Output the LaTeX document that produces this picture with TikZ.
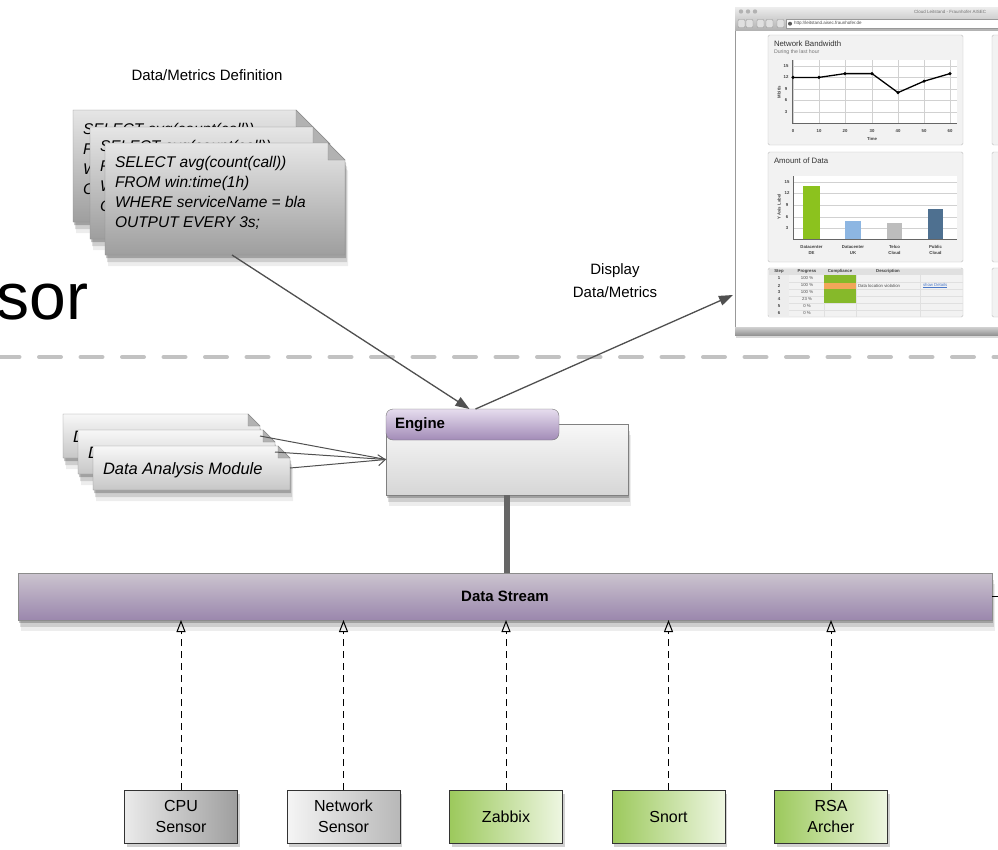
\documentclass[tikz,border=0pt]{standalone}
\usepackage{fontspec}
\setmainfont{Liberation Sans}
\usetikzlibrary{arrows.meta,shadows,calc}

\definecolor{arrowgray}{HTML}{505050}
\definecolor{streamtop}{HTML}{CBC4CF}
\definecolor{streambot}{HTML}{9B87AD}
\definecolor{headtop}{HTML}{E6DDEE}
\definecolor{headbot}{HTML}{A28BB7}
\definecolor{srcgreen}{HTML}{9CC95C}
\definecolor{srcpale}{HTML}{EEF6E2}
\definecolor{barDE}{HTML}{8CC21E}
\definecolor{barUK}{HTML}{8DB6E2}
\definecolor{barTel}{HTML}{BDBDBD}
\definecolor{barPub}{HTML}{4E7090}
\definecolor{okgreen}{HTML}{86B92A}
\definecolor{warnorange}{HTML}{F2A65A}
\definecolor{linkblue}{HTML}{4A78C8}

% folded sheet behind node #1, fold size #2, look #3
\newcommand{\dogear}[3]{%
  \path[#3] (#1.north west) -- ([xshift=-#2]#1.north east)
    -- ([yshift=-#2]#1.north east) -- (#1.south east) -- (#1.south west) -- cycle;
  \filldraw[paper fold] ([xshift=-#2]#1.north east) -- ([xshift=-#2,yshift=-#2]#1.north east)
    -- ([yshift=-#2]#1.north east) -- cycle;
}

\begin{document}
\begin{tikzpicture}[x=1pt, y=-1pt, inner sep=0pt, outer sep=0pt,
    soft shadow/.style={drop shadow={fill=black, shadow xshift=1pt, shadow yshift=-3pt, opacity=.22},
      drop shadow={fill=black, shadow xshift=2pt, shadow yshift=-7pt, opacity=.13},
      drop shadow={fill=black, shadow xshift=3pt, shadow yshift=-11pt, opacity=.07}},
    paper/.style={draw=black!45, top color=black!10, bottom color=black!38, soft shadow},
    slip/.style={paper, top color=black!3, bottom color=black!22},
    paper fold/.style={draw=black!45, fill=black!30},
    caption/.style={font=\fontsize{15}{23}\selectfont},
    query/.style={anchor=north west, align=left, font=\fontsize{15.5}{20}\selectfont\itshape},
    module/.style={anchor=west, font=\fontsize{16.5}{20}\selectfont\itshape},
    heading/.style={font=\fontsize{15}{18}\selectfont\bfseries},
    engine_box/.style={draw=black!50, top color=black!3, bottom color=black!16, soft shadow},
    engine_tab/.style={draw=black!55, top color=headtop, bottom color=headbot, rounded corners=7pt},
    stream_bar/.style={heading, draw=black!45, top color=streamtop, bottom color=streambot, soft shadow},
    source/.style={draw=black!80, line width=1pt, minimum width=113, minimum height=53,
      align=center, font=\fontsize{16}{21}\selectfont,
      drop shadow={fill=black, shadow xshift=2pt, shadow yshift=-4pt, opacity=.18}},
    feed/.style={line width=1pt, dash pattern=on 7pt off 5pt, -{Triangle[open, length=12pt, width=9pt]}},
    link/.style={draw=arrowgray, line width=1pt},
    pointer/.style={draw=arrowgray, fill=arrowgray, line width=1.3pt, -{Triangle[length=14pt, width=10pt]}},
    separator/.style={draw=black!24, line width=4pt, line cap=round, dash pattern=on 22pt off 19.5pt},
    window/.style={draw=black!40, fill=white, drop shadow={fill=black, shadow xshift=1pt, shadow yshift=-3pt, opacity=.15}},
    panel/.style={draw=black!25, fill=black!5, rounded corners=1.5pt},
    plotgrid/.style={draw=black!18, line width=.5pt},
    tick/.style={font=\fontsize{4.3}{6}\selectfont\bfseries, text=black!75, align=center},
    cell/.style={font=\fontsize{4.3}{6}\selectfont, text=black!70},
    shot title/.style={anchor=west, font=\fontsize{7.8}{9}\selectfont, text=black!80},
    shot note/.style={anchor=west, font=\fontsize{5.2}{6}\selectfont, text=black!55}]
    \useasboundingbox (0,0) rectangle (998,849);

    % separator
    \draw[separator] (-2.5,357) -- (1000,357);

    % cut-off word
    \node[anchor=base west, font=\fontsize{66}{70}\selectfont] (cut_word) at (-3,319) {sor};

    % data/metrics definition
    \node[caption] (def_cap) at (207,75) {Data/Metrics Definition};
    \foreach \name/\x/\y in {query_back/73/110, query_mid/90/127, query_front/105/143}{
      \node[anchor=north west, minimum width=240, minimum height=112] (\name) at (\x,\y) {};
      \dogear{\name}{17pt}{paper}
      \node[query] at ([xshift=10pt, yshift=-13pt]\name.north west)
        {SELECT avg(count(call))\\FROM win:time(1h)\\WHERE serviceName = bla\\OUTPUT EVERY 3s;};
    }

    % analysis modules
    \foreach \name/\x/\y in {mod_back/63/414, mod_mid/78/430, mod_front/93/446}{
      \node[anchor=north west, minimum width=197, minimum height=44] (\name) at (\x,\y) {};
      \dogear{\name}{12pt}{slip}
      \node[module] at ([xshift=10pt, yshift=-2pt]\name.west) {Data Analysis Module};
    }

    % engine
    \node[engine_box, anchor=north west, minimum width=242, minimum height=71] (engine_body) at (386,424) {};
    \node[engine_tab, anchor=north west, minimum width=173, minimum height=31] (engine_head) at (386,409) {};
    \node[heading, anchor=west] (engine_lbl) at ([xshift=9pt]engine_head.west) {Engine};

    \draw[link] (mod_back.east) -- (engine_body.west);
    \draw[link] (mod_mid.east) -- (engine_body.west);
    \draw[link, -{Straight Barb[length=7pt, width=11pt]}] (mod_front.east) -- (engine_body.west);

    % data stream
    \node[stream_bar, minimum width=974, minimum height=47] (stream) at (505,596.5) {Data Stream};
    \draw[line width=6pt, draw=black!60] (engine_body.south) -- (engine_body.south |- stream.north);
    \draw[line width=1pt] (stream.east) -- ++(10,0);

    % sources
    \foreach \name/\x/\txt/\lc/\rc in {cpu_sensor/181/CPU\\Sensor/black!8/black!38,
        net_sensor/343.5/Network\\Sensor/black!4/black!28, zabbix/506/Zabbix/srcgreen/srcpale,
        snort/668.5/Snort/srcgreen/srcpale, rsa_archer/831/RSA\\Archer/srcgreen/srcpale}{
      \node[source, left color=\lc, right color=\rc] (\name) at (\x,816.5) {\txt};
      \draw[feed] (\name.north) -- (\name.north |- stream.south);
    }

    % screenshot
    \begin{scope}
      \clip (0,0) rectangle (998,849);
      \node[window, anchor=north west, minimum width=280, minimum height=328] (browser) at (735,7) {};
      \shade[top color=black!7, bottom color=black!30] (browser.north west) rectangle ([yshift=-23pt]browser.north east);
      \foreach \x in {741,748,755} \fill[black!30] (\x,11.5) circle (2.2);
      \node[anchor=west, font=\fontsize{4.5}{5}\selectfont, text=black!55] at (914,11.5) {Cloud Leitstand - Fraunhofer AISEC};
      \foreach \x in {738,746,757,766,777} \draw[black!40, fill=black!12, rounded corners=1pt] (\x,19.5) rectangle ++(7,8);
      \draw[black!40, fill=white] (786,19.5) rectangle (1015,28);
      \fill[black!65] (790,23.7) circle (2);
      \node[anchor=west, font=\fontsize{4.5}{5}\selectfont, text=black!70] at (794,23.7) {http://leitstand.aisec.fraunhofer.de};
      \shade[top color=black!18, bottom color=black!42] ([yshift=8pt]browser.south west) rectangle (browser.south east);
      \foreach \y/\h in {35/110, 152/110, 268/49}{
        \draw[panel] (768,\y) rectangle ++(195,\h);
        \draw[panel] (992,\y) rectangle ++(30,\h);
      }

      % bandwidth chart
      \node[shot title] at (774,44) {Network Bandwidth};
      \node[shot note] at (774,52) {During the last hour};
      \fill[white] (792,60) rectangle (957,123);
      \foreach \y/\t in {66/15,77/12,89/9,100/6,112/3}{
        \draw[plotgrid] (792,\y) -- (957,\y);
        \node[tick] at (786,\y) {\t};
      }
      \foreach \x/\t in {793/0,819/10,845/20,872/30,898/40,924/50,950/60}{
        \draw[plotgrid] (\x,60) -- (\x,123);
        \node[tick] at (\x,131) {\t};
      }
      \draw[black!60] (792,60) -- (792,123) -- (957,123);
      \node[tick] at (872,138.5) {Time};
      \node[tick, rotate=90] at (779,92) {Mbit/s};
      \draw[line width=1.3pt] (793,77.4) -- (819,77.4) -- (845,73.6) -- (872,73.6) -- (898,92.6) -- (924,81.2) -- (950,73.6);
      \foreach \x/\y in {793/77.4,819/77.4,845/73.6,872/73.6,898/92.6,924/81.2,950/73.6} \fill (\x,\y) circle (1.7);

      % data amount chart
      \node[shot title] at (774,161) {Amount of Data};
      \fill[white] (793,176) rectangle (957,239);
      \foreach \y/\t in {182/15,193/12,205/9,217/6,228/3}{
        \draw[plotgrid] (793,\y) -- (957,\y);
        \node[tick] at (787,\y) {\t};
      }
      \draw[black!60] (793,176) -- (793,239) -- (957,239);
      \fill[barDE] (803,239) rectangle (820,185.8);
      \fill[barUK] (845,239) rectangle (861,221);
      \fill[barTel] (887,239) rectangle (902,223);
      \fill[barPub] (928,239) rectangle (943,209);
      \foreach \x/\a/\b in {811.5/Datacenter/DE, 853/Datacenter/UK, 894.5/Telco/Cloud, 935.5/Public/Cloud}
        \node[tick] at (\x,250) {\a\\\b};
      \node[tick, rotate=90] at (779,207) {Y Axis Label};

      % compliance table
      \fill[black!12] (768.5,268.5) rectangle (962.5,275);
      \fill[black!7] (768.5,275) rectangle (789,316.5);
      \foreach \y in {282,289,296,303,310} \draw[black!12, line width=.4pt] (789,\y) -- (962.5,\y);
      \foreach \x in {824,856,920} \draw[black!12, line width=.4pt] (\x,275) -- (\x,316.5);
      \fill[okgreen] (824,275) rectangle (856,303);
      \fill[warnorange] (824,282.5) rectangle (856,288.5);
      \foreach \x/\t in {779/Step, 807/Progress, 840/Compliance, 888/Description} \node[tick] at (\x,271.7) {\t};
      \foreach \y/\s/\p in {278.5/1/100 \%, 285.5/2/100 \%, 292.5/3/100 \%, 299.5/4/23 \%, 306.5/5/0 \%, 313.5/6/0 \%}{
        \node[tick] at (779,\y) {\s};
        \node[cell] at (807,\y) {\p};
      }
      \node[cell, anchor=west] at (858,285.5) {Data location violation};
      \node[cell, anchor=west, text=linkblue] at (923,285.5) {\underline{show Details}};
    \end{scope}

    % arrows
    \coordinate (display_in) at (733,295);
    \draw[pointer] ([xshift=7pt]query_front.south) -- ([xshift=-3pt]engine_head.north);
    \draw[pointer] ([xshift=3pt]engine_head.north) -- (display_in);
    \node[caption, align=center] (display_cap) at (615,281) {Display\\Data/Metrics};

\end{tikzpicture}
\end{document}
